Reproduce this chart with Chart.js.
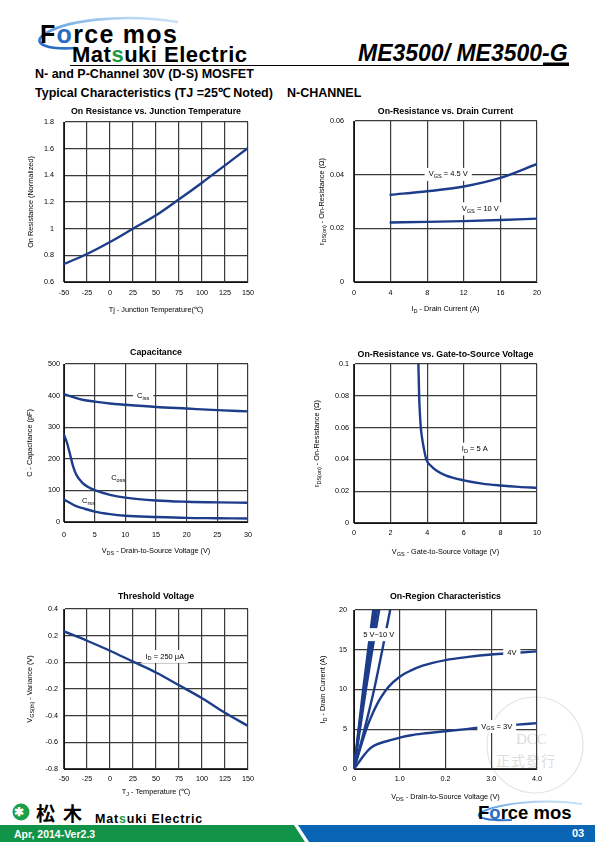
<!DOCTYPE html>
<html>
<head>
<meta charset="utf-8">
<script src="https://cdn.jsdelivr.net/npm/chart.js@4"></script>
<style>
  body { margin: 0; width: 595px; height: 842px; position: relative; background: #fff; overflow: hidden;
         font-family: "Liberation Sans", Arial, sans-serif; }
  .abs { position: absolute; white-space: nowrap; line-height: 1; }
  canvas { position: absolute; }
  .green { color: #1b9a3e; }
</style>
</head>
<body>

<svg class="abs" style="left:0;top:0" width="595" height="842">
  <defs>
    <linearGradient id="sw" x1="1" y1="0" x2="0" y2="1">
      <stop offset="0" stop-color="#d4e8f8"/>
      <stop offset="0.6" stop-color="#6aa8e4"/>
      <stop offset="1" stop-color="#1e62c0"/>
    </linearGradient>
  </defs>
  <path d="M178 22 C122 13 62 20 42 36 C33 44 48 50 76 48" fill="none" stroke="url(#sw)" stroke-width="2.6"/>
  <line x1="70" y1="65.5" x2="569" y2="65.5" stroke="#000" stroke-width="1"/>
  <rect x="543" y="62.5" width="26" height="3.5" fill="#000"/>
  <polygon points="0,825 294,825 305,842 0,842" fill="#119447"/>
  <polygon points="298,825 595,825 595,842 309,842" fill="#0b65b5"/>
  <path d="M582 804 C540 798 495 804 480 813 C474 818 490 821 512 820" fill="none" stroke="url(#sw)" stroke-width="2"/>
  <circle cx="535" cy="745" r="48" fill="none" stroke="#e4e4e4" stroke-width="1.2"/>
  <circle cx="21" cy="812" r="8.5" fill="#18a04a"/>
</svg>

<div class="abs" style="left:40px;top:22px;font-size:25px;font-weight:bold;letter-spacing:1.3px;">F<span style="color:#2a6cc4">o</span>rce mos</div>
<div class="abs" style="left:72px;top:44px;font-size:22px;font-weight:bold;letter-spacing:0.5px;">Mat<span class="green">s</span>uki Electric</div>
<div class="abs" style="left:358px;top:42px;font-size:23px;font-weight:bold;font-style:italic;">ME3500/ ME3500-G</div>
<div class="abs" style="left:35px;top:68px;font-size:12.5px;font-weight:bold;">N- and P-Channel 30V (D-S) MOSFET</div>
<div class="abs" style="left:35px;top:87px;font-size:12.5px;font-weight:bold;">Typical Characteristics (TJ =25℃ Noted)</div>
<div class="abs" style="left:287px;top:87px;font-size:12.5px;font-weight:bold;">N-CHANNEL</div>

<div class="abs" style="left:14px;top:806px;font-size:12px;font-weight:bold;color:#fff;">✱</div>
<div class="abs" style="left:36px;top:803px;font-size:19px;font-weight:bold;letter-spacing:8px;font-family:'Noto Sans CJK JP';line-height:19px;">松木</div>
<div class="abs" style="left:95px;top:813px;font-size:12.5px;font-weight:bold;letter-spacing:0.8px;">Mat<span class="green">s</span>uki Electric</div>
<div class="abs" style="left:14px;top:829px;font-size:10.5px;font-weight:bold;color:#fff;">Apr, 2014-Ver2.3</div>
<div class="abs" style="left:478px;top:804px;font-size:18.5px;font-weight:bold;">F<span style="color:#2a6cc4">o</span>rce mos</div>
<div class="abs" style="left:572px;top:828px;font-size:11px;font-weight:bold;color:#fff;">03</div>
<div class="abs" style="left:516px;top:732px;font-size:15px;color:#dcdcdc;font-family:'Liberation Serif';">DCC</div>
<div class="abs" style="left:496px;top:753px;font-size:14px;color:#dcdcdc;font-family:'Noto Sans CJK TC';letter-spacing:1px;">正式發行</div>

<canvas id="c1"></canvas>
<canvas id="c2"></canvas>
<canvas id="c3"></canvas>
<canvas id="c4"></canvas>
<canvas id="c5"></canvas>
<canvas id="c6"></canvas>

<script>
// ---- data ----

// On Resistance vs. Junction Temperature
const tjTemps = [-50, -25, 0, 25, 50, 75, 100, 125, 150];
const rOnNorm = [0.735, 0.81, 0.9, 1.0, 1.1, 1.22, 1.345, 1.475, 1.605];
const c1xTicks = [-50, -25, 0, 25, 50, 75, 100, 125, 150];
const c1xLabels = ['-50', '-25', '0', '25', '50', '75', '100', '125', '150'];
const c1yTicks = [0.6, 0.8, 1, 1.2, 1.4, 1.6, 1.8];
const c1yLabels = ['0.6', '0.8', '1', '1.2', '1.4', '1.6', '1.8'];

// On-Resistance vs. Drain Current
const idAmps = [4, 8, 12, 16, 20];
const rdsVgs45 = [0.0325, 0.0338, 0.0356, 0.0388, 0.044];
const rdsVgs10 = [0.0222, 0.0224, 0.0227, 0.0231, 0.0236];
const c2xTicks = [0, 4, 8, 12, 16, 20];
const c2xLabels = ['0', '4', '8', '12', '16', '20'];
const c2yTicks = [0, 0.02, 0.04, 0.06];
const c2yLabels = ['0', '0.02', '0.04', '0.06'];

// Capacitance
const capVds = [0, 1, 2, 3, 5, 7.5, 10, 15, 20, 25, 30];
const ciss = [405, 398, 392, 387, 381, 375, 371, 364, 359, 354, 350];
const crss = [71, 60, 50, 44, 33, 25, 20, 16, 13, 12, 11];
const cossVds = [0, 0.5, 1, 1.5, 2, 3, 4, 5, 7.5, 10, 15, 20, 25, 30];
const coss = [276, 250, 213, 175, 150, 124, 110, 101, 86, 77, 68, 64, 62, 61];
const c3xTicks = [0, 5, 10, 15, 20, 25, 30];
const c3xLabels = ['0', '5', '10', '15', '20', '25', '30'];
const c3yTicks = [0, 100, 200, 300, 400, 500];
const c3yLabels = ['0', '100', '200', '300', '400', '500'];

// On-Resistance vs. Gate-to-Source Voltage
const vgsVolts = [3.52, 3.56, 3.6, 3.65, 3.7, 3.8, 3.95, 4.2, 4.5, 5, 6, 7, 8, 9, 10];
const rdsId5 = [0.1, 0.08, 0.069, 0.06, 0.055, 0.048, 0.04, 0.036, 0.033, 0.030, 0.0268, 0.0248, 0.0236, 0.0227, 0.0221];
const c4xTicks = [0, 2, 4, 6, 8, 10];
const c4xLabels = ['0', '2', '4', '6', '8', '10'];
const c4yTicks = [0, 0.02, 0.04, 0.06, 0.08, 0.1];
const c4yLabels = ['0', '0.02', '0.04', '0.06', '0.08', '0.1'];

// Threshold Voltage
const thTemps = [-50, -25, 0, 25, 50, 75, 100, 125, 150];
const vthVar = [0.232, 0.162, 0.087, 0.005, -0.076, -0.172, -0.269, -0.378, -0.477];
const c5xTicks = [-50, -25, 0, 25, 50, 75, 100, 125, 150];
const c5xLabels = ['-50', '-25', '0', '25', '50', '75', '100', '125', '150'];
const c5yTicks = [-0.8, -0.6, -0.4, -0.2, 0, 0.2, 0.4];
const c5yLabels = ['-0.8', '-0.6', '-0.4', '-0.2', '-0.0', '0.2', '0.4'];

// On-Region Characteristics
const vdsSweep = [0, 0.1, 0.2, 0.3, 0.4, 0.5, 0.6, 0.75, 1.0, 1.25, 1.5, 2.0, 2.5, 3.0, 3.5, 4.0];
const id4V = [0, 1.9, 3.8, 5.5, 6.9, 8.1, 9.1, 10.3, 11.6, 12.4, 13.0, 13.7, 14.1, 14.4, 14.6, 14.8];
const id3V = [0, 0.8, 1.6, 2.3, 2.8, 3.1, 3.3, 3.55, 3.95, 4.25, 4.45, 4.75, 5.05, 5.35, 5.55, 5.77];
const idHigh = [0, 5, 10, 15, 20];
const vds10V = [0, 0.1, 0.2, 0.31, 0.42];
const vds8V = [0, 0.11, 0.22, 0.34, 0.46];
const vds7V = [0, 0.12, 0.24, 0.37, 0.5];
const vds6V = [0, 0.13, 0.26, 0.4, 0.55];
const vds5V = [0, 0.23, 0.44, 0.62, 0.79];
const c6xTicks = [0, 1, 2, 3, 4];
const c6xLabels = ['0', '1.0', '0.2', '3.0', '4.0'];
const c6yTicks = [0, 5, 10, 15, 20];
const c6yLabels = ['0', '5', '10', '15', '20'];

// ---- drawing ----
const FONT = '"Liberation Sans", Arial, sans-serif';
const CURVE = '#1d3d8b';
const AXIS_W = 50, AXIS_H = 36, HEAD = 22, TAIL = 12;

function splitRich(str) {
  const out = [];
  str.split(/(_\{[^}]*\})/).forEach(s => {
    if (!s) return;
    if (s.startsWith('_{')) out.push({ t: s.slice(2, -1), sub: true });
    else out.push({ t: s, sub: false });
  });
  return out;
}

function richWidth(ctx, str, size, weight) {
  let w = 0;
  for (const p of splitRich(str)) {
    ctx.font = `${weight} ${p.sub ? size * 0.75 : size}px ${FONT}`;
    w += ctx.measureText(p.t).width;
  }
  return w;
}

function drawRich(ctx, str, x, y, size, weight) {
  const w = richWidth(ctx, str, size, weight);
  let cx = x - w / 2;
  ctx.textAlign = 'left';
  ctx.textBaseline = 'middle';
  for (const p of splitRich(str)) {
    ctx.font = `${weight} ${p.sub ? size * 0.75 : size}px ${FONT}`;
    ctx.fillText(p.t, cx, p.sub ? y + size * 0.3 : y);
    cx += ctx.measureText(p.t).width;
  }
  return w;
}

const panelPlugin = {
  id: 'panel',
  afterDraw(chart, args, o) {
    const { ctx, chartArea: a } = chart;
    const midX = (a.left + a.right) / 2, midY = (a.top + a.bottom) / 2;
    ctx.save();
    ctx.fillStyle = '#000';
    drawRich(ctx, o.title, midX, a.top - o.titleGap, 8.8, 'bold');
    drawRich(ctx, o.xTitle, midX, a.bottom + o.xTitleGap, 7.3, 'normal');
    ctx.save();
    ctx.translate(a.left - o.yTitleGap, midY);
    ctx.rotate(-Math.PI / 2);
    drawRich(ctx, o.yTitle, 0, 0, 7.3, 'normal');
    ctx.restore();
    for (const lab of o.labels) {
      const px = chart.scales.x.getPixelForValue(lab.x);
      const py = chart.scales.y.getPixelForValue(lab.y);
      const w = richWidth(ctx, lab.text, 7.5, 'normal');
      if (lab.box) {
        ctx.fillStyle = '#fff';
        ctx.fillRect(px - w / 2 - 4, py - 6.5, w + 8, 13);
      }
      ctx.fillStyle = '#000';
      drawRich(ctx, lab.text, px, py, 7.5, 'normal');
    }
    ctx.restore();
  }
};

function curve(xs, ys, smooth) {
  return {
    data: xs.map((x, i) => ({ x, y: ys[i] })),
    borderColor: CURVE, borderWidth: 2.4, pointRadius: 0, fill: false,
    cubicInterpolationMode: smooth ? 'monotone' : 'default', tension: 0,
    borderCapStyle: 'round'
  };
}

function axis(values, labels, pad, horiz) {
  return {
    type: 'linear', min: values[0], max: values[values.length - 1],
    afterBuildTicks: s => { s.ticks = values.map(v => ({ value: v })); },
    afterFit: s => {
      if (horiz) { s.height = AXIS_H; s.paddingLeft = 0; s.paddingRight = 0; }
      else { s.width = AXIS_W; s.paddingTop = 0; s.paddingBottom = 0; }
    },
    ticks: { callback: (v, i) => labels[i], padding: pad, autoSkip: false, maxRotation: 0, minRotation: 0,
             font: { size: 7.2, family: FONT }, color: '#000' },
    grid: { color: '#3a3a3a', lineWidth: 1.2, drawTicks: false },
    border: { color: '#111', width: 1 }
  };
}

function makePanel(p) {
  const cv = document.getElementById(p.id);
  cv.width = p.w + AXIS_W + TAIL;
  cv.height = p.h + HEAD + AXIS_H;
  cv.style.left = (p.left - AXIS_W) + 'px';
  cv.style.top = (p.top - HEAD) + 'px';
  new Chart(cv, {
    type: 'line',
    data: { datasets: p.datasets },
    options: {
      responsive: false, animation: false, devicePixelRatio: 1,
      layout: { padding: { top: HEAD, right: TAIL, left: 0, bottom: 0 } },
      plugins: { legend: { display: false }, tooltip: { enabled: false }, panel: p.text },
      scales: {
        x: axis(p.xTicks, p.xLabels, p.xPad, true),
        y: axis(p.yTicks, p.yLabels, p.yPad, false)
      }
    },
    plugins: [panelPlugin]
  });
}

makePanel({
  id: 'c1', left: 64, top: 122, w: 184, h: 160, xPad: 7, yPad: 10,
  xTicks: c1xTicks, xLabels: c1xLabels, yTicks: c1yTicks, yLabels: c1yLabels,
  datasets: [curve(tjTemps, rOnNorm, true)],
  text: { title: 'On Resistance vs. Junction Temperature', titleGap: 10,
          xTitle: 'Tj - Junction Temperature(℃)', xTitleGap: 28,
          yTitle: 'On Resistance (Normalized)', yTitleGap: 33, labels: [] }
});

makePanel({
  id: 'c2', left: 354, top: 121, w: 183, h: 161, xPad: 7, yPad: 10,
  xTicks: c2xTicks, xLabels: c2xLabels, yTicks: c2yTicks, yLabels: c2yLabels,
  datasets: [curve(idAmps, rdsVgs45, true), curve(idAmps, rdsVgs10, true)],
  text: { title: 'On-Resistance vs. Drain Current', titleGap: 9,
          xTitle: 'I_{D} - Drain Current (A)', xTitleGap: 27,
          yTitle: 'r_{DS(on)} - On-Resistance (Ω)', yTitleGap: 32,
          labels: [{ x: 10.3, y: 0.0401, text: 'V_{GS} = 4.5 V', box: true },
                   { x: 13.8, y: 0.0273, text: 'V_{GS} = 10 V', box: true }] }
});

makePanel({
  id: 'c3', left: 64, top: 364, w: 184, h: 158, xPad: 9, yPad: 4,
  xTicks: c3xTicks, xLabels: c3xLabels, yTicks: c3yTicks, yLabels: c3yLabels,
  datasets: [curve(capVds, ciss, true), curve(cossVds, coss, true), curve(capVds, crss, true)],
  text: { title: 'Capacitance', titleGap: 11,
          xTitle: 'V_{DS} - Drain-to-Source Voltage (V)', xTitleGap: 29,
          yTitle: 'C - Capacitance (pF)', yTitleGap: 34,
          labels: [{ x: 12.9, y: 398, text: 'C_{iss}', box: true },
                   { x: 8.85, y: 140, text: 'C_{oss}', box: false },
                   { x: 4.0, y: 67, text: 'C_{rss}', box: false }] }
});

makePanel({
  id: 'c4', left: 354, top: 364, w: 183, h: 159, xPad: 6, yPad: 5,
  xTicks: c4xTicks, xLabels: c4xLabels, yTicks: c4yTicks, yLabels: c4yLabels,
  datasets: [curve(vgsVolts, rdsId5, true)],
  text: { title: 'On-Resistance vs. Gate-to-Source Voltage', titleGap: 9,
          xTitle: 'V_{GS} - Gate-to-Source Voltage (V)', xTitleGap: 29,
          yTitle: 'r_{DS(on)} - On-Resistance (Ω)', yTitleGap: 37,
          labels: [{ x: 6.6, y: 0.0464, text: 'I_{D} = 5 A', box: true }] }
});

makePanel({
  id: 'c5', left: 64, top: 609, w: 184, h: 160, xPad: 6, yPad: 6,
  xTicks: c5xTicks, xLabels: c5xLabels, yTicks: c5yTicks, yLabels: c5yLabels,
  datasets: [curve(thTemps, vthVar, true)],
  text: { title: 'Threshold Voltage', titleGap: 12,
          xTitle: 'T_{J} - Temperature (℃)', xTitleGap: 23,
          yTitle: 'V_{GS(th)} - Variance (V)', yTitleGap: 34,
          labels: [{ x: 59.6, y: 0.044, text: 'I_{D} = 250 μA', box: true }] }
});

makePanel({
  id: 'c6', left: 354, top: 610, w: 183, h: 159, xPad: 6, yPad: 7,
  xTicks: c6xTicks, xLabels: c6xLabels, yTicks: c6yTicks, yLabels: c6yLabels,
  datasets: [
    curve(vds10V, idHigh, false), curve(vds8V, idHigh, false), curve(vds7V, idHigh, false),
    curve(vds6V, idHigh, false), curve(vds5V, idHigh, true),
    curve(vdsSweep, id4V, true), curve(vdsSweep, id3V, true)
  ],
  text: { title: 'On-Region Characteristics', titleGap: 13,
          xTitle: 'V_{DS} - Drain-to-Source Voltage (V)', xTitleGap: 28,
          yTitle: 'I_{D} - Drain Current (A)', yTitleGap: 31,
          labels: [{ x: 0.54, y: 16.9, text: '5 V~10 V', box: true },
                   { x: 3.45, y: 14.56, text: '4V', box: true },
                   { x: 3.12, y: 5.35, text: 'V_{GS} = 3V', box: true }] }
});
</script>
</body>
</html>
